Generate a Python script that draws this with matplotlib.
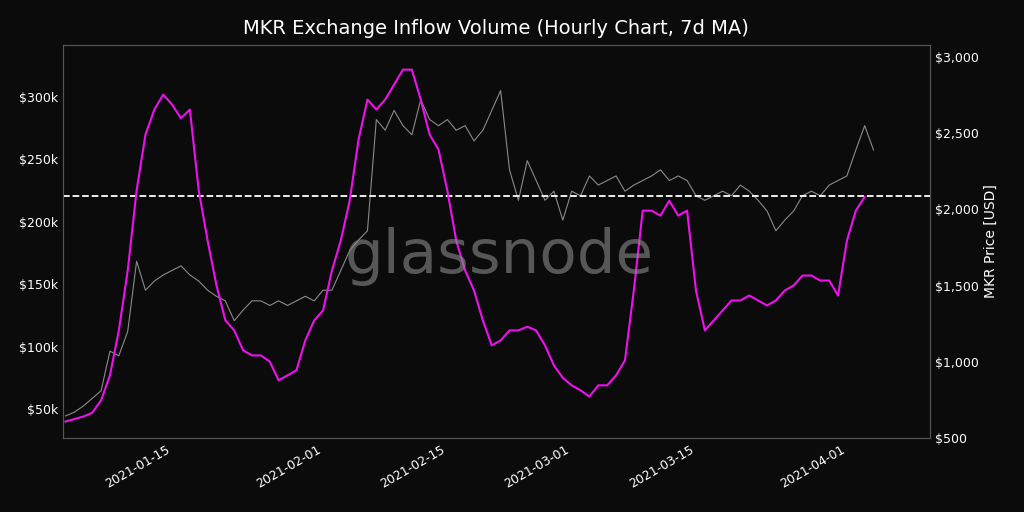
import matplotlib
matplotlib.use("Agg")
import matplotlib.pyplot as plt
import matplotlib.ticker as mt
import pandas as pd

start = "2021-01-03"
inflow_k = [40,42,44,47,57,77,113,161,225,270,290,302,294,283,290,225,185,149,121,113,97,93,93,88,73,77,81,105,121,129,161,185,217,266,298,290,298,310,322,322,298,270,258,225,185,161,145,121,101,105,113,113,116,113,101,85,75,69,65,60,69,69,77,89,145,209,209,205,217,205,209,145,113,121,129,137,137,141,137,133,137,145,149,157,157,153,153,141,185,209,220]
price = [645,670,710,760,810,1070,1040,1200,1660,1470,1530,1570,1600,1630,1570,1530,1470,1430,1400,1270,1340,1400,1400,1370,1400,1370,1400,1430,1400,1470,1470,1600,1730,1800,1860,2590,2520,2650,2550,2490,2720,2590,2550,2590,2520,2550,2450,2520,2650,2780,2260,2060,2320,2190,2060,2120,1930,2120,2090,2220,2160,2190,2220,2120,2160,2190,2220,2260,2190,2220,2190,2090,2060,2090,2120,2090,2160,2120,2060,1990,1860,1930,1990,2090,2120,2090,2160,2190,2220,2390,2550,2390]
dates_in = pd.date_range(start, periods=len(inflow_k), freq="D")
dates_pr = pd.date_range(start, periods=len(price), freq="D")
threshold_k = 220.7

bg = "#0b0b0b"
fig = plt.figure(figsize=(10.24, 5.12), dpi=100, facecolor=bg)
ax = fig.add_axes([0.0615, 0.1445, 0.8465, 0.7675], facecolor=bg)
ax2 = ax.twinx()
ax2.plot(dates_pr, price, color="#8a8a8a", lw=0.8)
ax.plot(dates_in, inflow_k, color="#ee11ee", lw=1.5, zorder=5)
ax.set_zorder(ax2.get_zorder() + 1)
ax.patch.set_visible(False)
ax.axhline(threshold_k, color="white", ls="--", lw=1.3)

ax.set_xlim(pd.Timestamp("2021-01-02 17:00"), pd.Timestamp("2021-04-10 08:00"))
ax.set_ylim(26.8, 341.7)
ax2.set_ylim(500, 3079)
ax.set_yticks([50, 100, 150, 200, 250, 300])
ax.yaxis.set_major_formatter(mt.FuncFormatter(lambda v, p: f"${v:.0f}k"))
ax2.set_yticks([500, 1000, 1500, 2000, 2500, 3000])
ax2.yaxis.set_major_formatter(mt.FuncFormatter(lambda v, p: f"${v:,.0f}"))
ticks = pd.to_datetime(["2021-01-15", "2021-02-01", "2021-02-15", "2021-03-01", "2021-03-15", "2021-04-01"])
ax.set_xticks(ticks)
ax.set_xticklabels([t.strftime("%Y-%m-%d") for t in ticks], rotation=30, ha="right")
for a in (ax, ax2):
    a.tick_params(colors="white", labelsize=9, length=0)
    for s in a.spines.values():
        s.set_color("#555555")
ax2.set_ylabel("MKR Price [USD]", color="white", fontsize=10)
ax.set_title("MKR Exchange Inflow Volume (Hourly Chart, 7d MA)", color="white", fontsize=14, pad=8)
fig.text(0.487, 0.5, "glassnode", color="#8a8a8a", alpha=0.6, fontsize=44, ha="center", va="center", zorder=10)
fig.savefig("out.png", facecolor=bg)
